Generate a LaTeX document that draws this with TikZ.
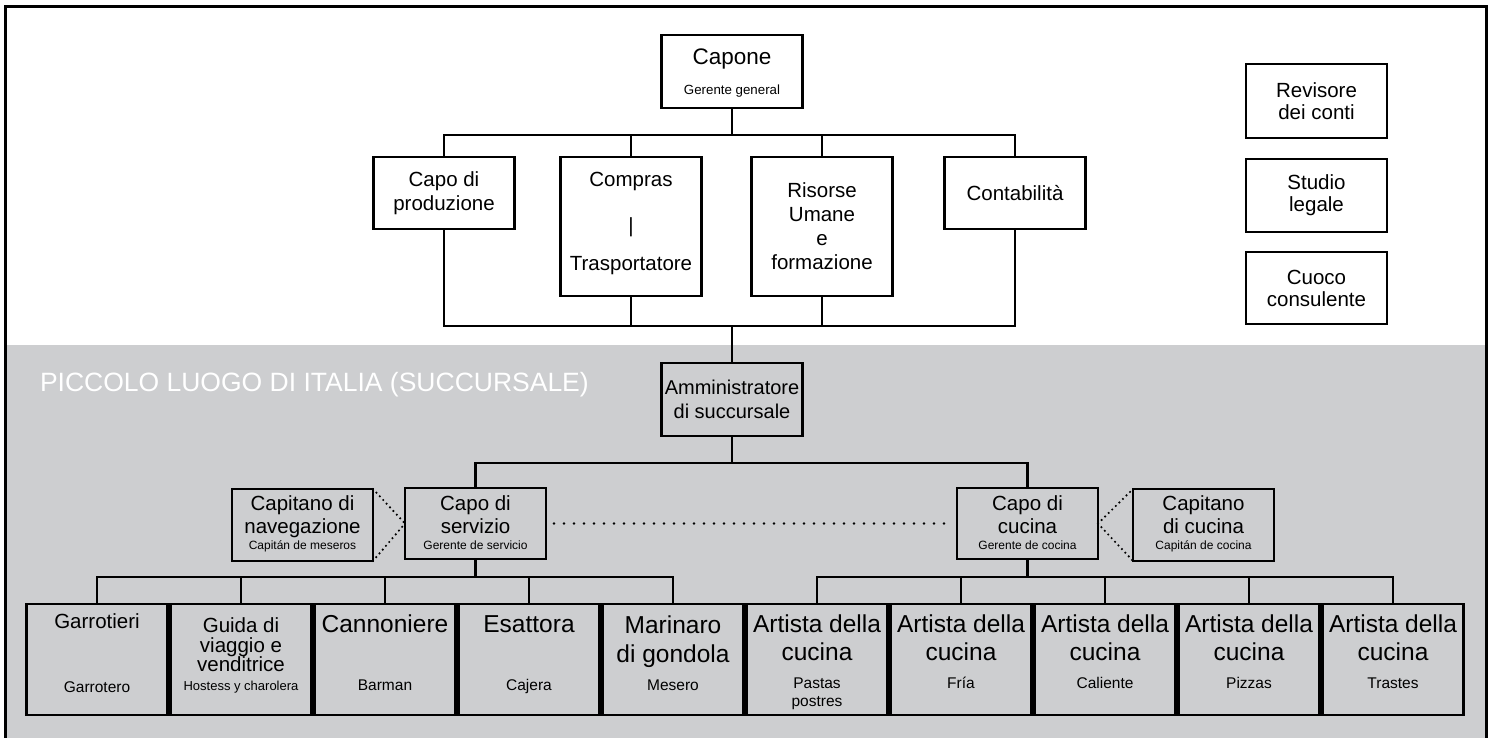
\documentclass[tikz,border=0pt]{standalone}
\usepackage{fontspec}
\setmainfont{Liberation Sans}
\usepackage{tikz}
\usetikzlibrary{positioning, calc}
\definecolor{branchgray}{RGB}{205,206,208}

\begin{document}
\begin{tikzpicture}[x=1pt, y=-1pt,
    every node/.style={inner sep=0pt, outer sep=0pt},
    box/.style={draw, line width=2.9pt, minimum width=141pt, minimum height=72pt,
                align=center, font=\fontsize{20.5}{24}\selectfont},
    tallbox/.style={box, minimum height=139pt},
    cell/.style={box, minimum height=111pt},
    bus/.style={line width=2.3pt},
    link/.style={line width=2.6pt, line cap=round, dash pattern=on 0pt off 10pt},
    tie/.style={line width=2.4pt, line cap=round, dash pattern=on 0pt off 5pt},
    big/.style={anchor=base, font=\fontsize{24.5}{28}\selectfont},
    mid/.style={anchor=base, font=\fontsize{20.5}{23}\selectfont},
    sub/.style={anchor=base, font=\fontsize{15.5}{18}\selectfont},
    note/.style={anchor=base, font=\fontsize{12}{14}\selectfont},
  ]
    \useasboundingbox (0,0) rectangle (1492,738);

    % branch area + frame
    \fill[branchgray] (5,345) rectangle (1486,745);
    \draw[line width=3pt] (5,7) rectangle (1486,745);
    \node[anchor=base west, text=white, font=\fontsize{26.5}{30}\selectfont] (title)
         at (40,391) {PICCOLO LUOGO DI ITALIA (SUCCURSALE)};

    % head office
    \node[box, minimum height=73pt] (capone) at (732,71.5) {};
    \node[anchor=base, font=\fontsize{22.5}{24}\selectfont] (capone-t)
         at ($(capone.north)+(0,30)$) {Capone};
    \node[anchor=base, font=\fontsize{13.3}{15}\selectfont] (capone-s)
         at ($(capone.north)+(0,60)$) {Gerente general};

    \node[box] (prod) at (444,193) {Capo di\\produzione};
    \node[tallbox] (compras) at (631,226.5) {};
    \node[mid] (compras-t) at ($(compras.north)+(0,30)$) {Compras};
    \node[mid] (compras-b) at ($(compras.north)+(0,76)$) {|};
    \node[mid] (compras-s) at ($(compras.north)+(0,114)$) {Trasportatore};
    \node[tallbox] (risorse) at (822,226.5) {Risorse\\Umane\\e\\formazione};
    \node[box] (conta) at (1015,193) {Contabilità};

    % external advisers
    \node[box, minimum height=74pt, font=\fontsize{20.5}{22}\selectfont] (revisore)
         at (1316.5,101) {Revisore\\dei conti};
    \node[box, minimum height=73pt, font=\fontsize{20.5}{22}\selectfont] (studio)
         at (1316.5,195.5) {Studio\\legale};
    \node[box, minimum height=72pt, font=\fontsize{20.5}{22}\selectfont] (cuoco)
         at (1316.5,288) {Cuoco\\consulente};

    \coordinate (topbus) at (732,135);
    \coordinate (lowbus) at (732,326);
    \draw[bus] (capone.south) -- (topbus);
    \foreach \n in {prod,compras,risorse,conta}{
      \draw[bus] (\n.north) |- (topbus);
      \draw[bus] (\n.south) |- (lowbus);
    }

    % branch
    \node[box, minimum height=73pt, font=\fontsize{20}{24}\selectfont] (ammin)
         at (732,399.5) {Amministratore\\di succursale};
    \draw[bus] (lowbus) -- (ammin.north);

    \node[box, minimum height=71pt] (servizio) at (475.5,523.5) {};
    \node[mid] (servizio-t) at ($(servizio.north)+(0,22)$) {Capo di};
    \node[mid] (servizio-u) at ($(servizio.north)+(0,45)$) {servizio};
    \node[note] (servizio-s) at ($(servizio.north)+(0,61)$) {Gerente de servicio};

    \node[box] (navig) at (302.5,525) {};
    \node[mid] (navig-t) at ($(navig.north)+(0,21)$) {Capitano di};
    \node[mid] (navig-u) at ($(navig.north)+(0,44)$) {navegazione};
    \node[note] (navig-s) at ($(navig.north)+(0,60)$) {Capitán de meseros};

    \node[box, minimum height=71pt] (cucina) at (1027.5,523.5) {};
    \node[mid] (cucina-t) at ($(cucina.north)+(0,22)$) {Capo di};
    \node[mid] (cucina-u) at ($(cucina.north)+(0,45)$) {cucina};
    \node[note] (cucina-s) at ($(cucina.north)+(0,61)$) {Gerente de cocina};

    \node[box] (capcucina) at (1203.5,525) {};
    \node[mid] (capcucina-t) at ($(capcucina.north)+(0,21)$) {Capitano};
    \node[mid] (capcucina-u) at ($(capcucina.north)+(0,44)$) {di cucina};
    \node[note] (capcucina-s) at ($(capcucina.north)+(0,60)$) {Capitán de cocina};

    \coordinate (splitbus) at (732,463);
    \draw[bus] (ammin.south) -- (splitbus);
    \draw[bus] (servizio.north) |- (splitbus);
    \draw[bus] (cucina.north) |- (splitbus);

    \draw[tie] (navig.north east) -- (servizio.west);
    \draw[tie] (navig.south east) -- (servizio.west);
    \draw[link, shorten <=8pt, shorten >=6pt] (servizio.east) -- (cucina.west);
    \draw[tie] (cucina.east) -- (capcucina.north west);
    \draw[tie] (cucina.east) -- (capcucina.south west);

    % staff row
    \foreach \i/\nm in {0/garr,1/guida,2/cann,3/esat,4/mari,5/art1,6/art2,7/art3,8/art4,9/art5}
      \node[cell] (\nm) at ({97+144*\i},659.5) {};

    \node[mid] (garr-t) at ($(garr.north)+(0,24)$) {Garrotieri};
    \node[sub] (garr-s) at ($(garr.north)+(0,88)$) {Garrotero};

    \node[mid] (guida-t) at ($(guida.north)+(0,28)$) {Guida di};
    \node[mid] (guida-u) at ($(guida.north)+(0,48)$) {viaggio e};
    \node[mid] (guida-v) at ($(guida.north)+(0,67)$) {venditrice};
    \node[anchor=base, font=\fontsize{13}{15}\selectfont] (guida-s)
         at ($(guida.north)+(0,86)$) {Hostess y charolera};

    \node[big] (cann-t) at ($(cann.north)+(0,28)$) {Cannoniere};
    \node[sub] (cann-s) at ($(cann.north)+(0,86)$) {Barman};

    \node[big] (esat-t) at ($(esat.north)+(0,28)$) {Esattora};
    \node[sub] (esat-s) at ($(esat.north)+(0,86)$) {Cajera};

    \node[big] (mari-t) at ($(mari.north)+(0,29)$) {Marinaro};
    \node[big] (mari-u) at ($(mari.north)+(0,58)$) {di gondola};
    \node[sub] (mari-s) at ($(mari.north)+(0,86)$) {Mesero};

    \foreach \nm/\sb in {art1/Pastas,art2/Fría,art3/Caliente,art4/Pizzas,art5/Trastes}{
      \node[big] (\nm-t) at ($(\nm.north)+(0,28)$) {Artista della};
      \node[big] (\nm-u) at ($(\nm.north)+(0,56)$) {cucina};
      \node[sub] (\nm-s) at ($(\nm.north)+(0,84)$) {\sb};
    }
    \node[sub] (art1-v) at ($(art1.north)+(0,102)$) {postres};

    \coordinate (servbus) at (475.5,577);
    \coordinate (cucbus) at (1027.5,577);
    \draw[bus] (servizio.south) -- (servbus);
    \draw[bus] (cucina.south) -- (cucbus);
    \foreach \n in {garr,guida,cann,esat,mari}
      \draw[bus] (\n.north) |- (servbus);
    \foreach \n in {art1,art2,art3,art4,art5}
      \draw[bus] (\n.north) |- (cucbus);
\end{tikzpicture}
\end{document}
